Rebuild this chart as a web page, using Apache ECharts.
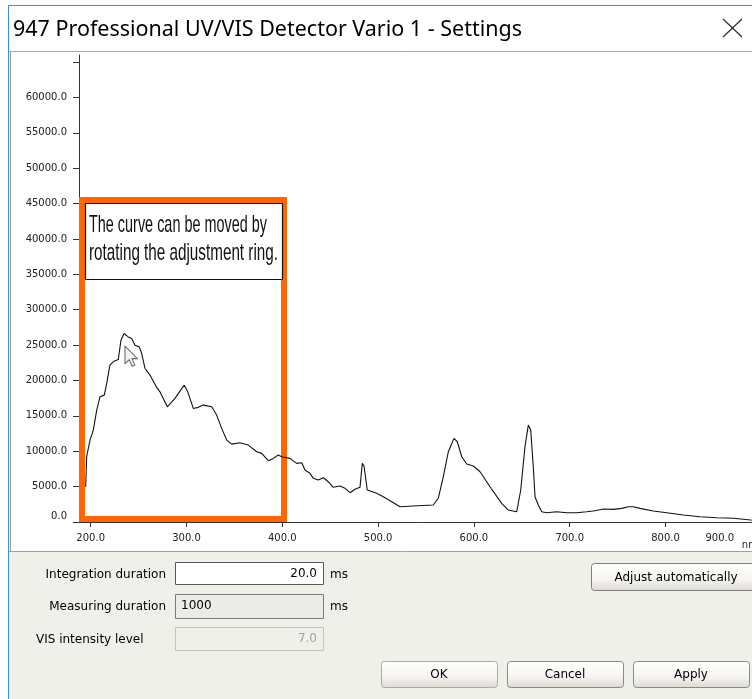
<!DOCTYPE html>
<html>
<head>
<meta charset="utf-8">
<script src="https://cdn.jsdelivr.net/npm/echarts@6/dist/echarts.min.js"></script>
<style>
html,body{margin:0;padding:0;background:#fff;overflow:hidden;width:752px;height:699px;}
#chart{width:800px;height:699px;}
</style>
</head>
<body>
<div id="chart"></div>
<script>
// ---- data ----
const wavelengths = [194.8,195.8,199.3,202.7,206.3,209.7,214.2,216.7,220.1,224.3,
  228.8,231.6,234.8,239.2,242.8,246.2,250.7,253.2,256.7,261.9,
  268.9,272.3,280.0,288.0,293.9,297.7,301.3,307.1,312.3,317.5,
  326.3,331.5,336.7,342.0,347.2,355.8,364.5,373.3,378.5,385.4,
  390.6,395.8,399.4,408.0,415.0,420.3,423.7,428.9,432.4,437.6,
  442.8,448.0,453.2,460.2,465.4,470.7,475.9,481.1,483.5,485.3,
  488.7,498.5,505.4,514.2,522.9,536.7,557.6,562.8,568.1,573.3,
  579.2,582.7,587.3,592.5,599.4,606.4,616.8,629.0,635.9,644.7,
  648.9,653.3,656.8,659.3,662.0,663.8,667.2,670.8,676.0,686.4,
  696.9,707.3,717.7,726.4,735.1,745.5,754.3,761.2,766.4,773.4,
  787.3,801.3,818.6,836.0,853.5,870.8,889.0,900];
const intensities = [4980,9220,11580,12990,15810,17690,17930,19580,22170,22730,
  22970,25700,26640,26160,25940,24990,24750,23820,21700,20760,
  19020,18400,16280,17470,18640,19340,18400,16050,16200,16520,
  16280,15110,13230,11580,11010,11200,10870,9930,9700,8660,
  8990,9460,9220,8990,8290,8370,7340,6880,6170,5930,
  6260,5690,4900,5080,4760,4140,4620,4900,8290,7910,
  4520,4050,3570,2870,2160,2260,2400,3350,6400,9930,
  11820,11340,9220,8190,7910,7100,4980,2640,1690,1450,
  4520,10630,13700,12990,7810,3570,2400,1450,1310,1450,
  1310,1310,1450,1600,1840,1790,1930,2160,2160,1930,
  1550,1310,990,750,610,520,280,250];
const xTickLabels = [200,300,400,500,600,700,800,900];
const yTickLabels = [0,5000,10000,15000,20000,25000,30000,35000,40000,45000,50000,55000,60000];
const yTickMarks = [0,5000,10000,15000,20000,25000,30000,35000,40000,45000,50000,55000,60000,65000];
const highlightRange = [[190.9, 420], [401.8, 45500]];

const titleText = '947 Professional UV/VIS Detector Vario 1 - Settings';
const noteLines = ['The curve can be moved by', 'rotating the adjustment ring.'];

// ---- helpers ----
const ctx = document.createElement('canvas').getContext('2d');
function fitScale(text, font, target){ ctx.font = font; const w = ctx.measureText(text).width; return w > 0 ? target / w : 1; }

const uiFont = '"DejaVu Sans", sans-serif';
const titleFont = '"Noto Sans", "Open Sans", sans-serif';
const noteFont = '"Liberation Sans", Arial, sans-serif';

const titleScale = fitScale(titleText, '21px "Noto Sans"', 509);
const note1Scale = fitScale(noteLines[0], '24px "Liberation Sans"', 178);
const note2Scale = fitScale(noteLines[1], '24px "Liberation Sans"', 189);

function button(x, y, w, h, text, border){
  return [
    {type:'rect', z:46, shape:{x:x+0.5,y:y+0.5,width:w,height:h,r:3},
     style:{fill:new echarts.graphic.LinearGradient(0,0,0,1,[{offset:0,color:'#ffffff'},{offset:0.6,color:'#f5f4f0'},{offset:1,color:'#dcd9d0'}]),
            stroke:border,lineWidth:1}},
    {type:'text', z:47, style:{x:x+w/2,y:y+h/2+1,text:text,font:'12px '+uiFont,fill:'#000',align:'center',verticalAlign:'middle'}}
  ];
}
function inputBox(x, y, w, h, fill, stroke){
  return {type:'rect', z:46, shape:{x:x+0.5,y:y+0.5,width:w,height:h}, style:{fill:fill,stroke:stroke,lineWidth:1}};
}
function label(x, y, text, color, align){
  return {type:'text', z:47, style:{x:x,y:y,text:text,font:'12px '+uiFont,fill:color||'#000',align:align||'left',verticalAlign:'middle'}};
}

const chart = echarts.init(document.getElementById('chart'));
chart.setOption({
  animation: false,
  backgroundColor: '#ffffff',
  grid: {left: 79, right: 38.7, top: 55, bottom: 177, containLabel: false},
  xAxis: {
    type: 'value', min: 187.8, max: 900,
    name: '\nnm', nameLocation: 'end', nameGap: -19.5,
    nameTextStyle: {fontFamily: 'DejaVu Sans', fontSize: 10, color: '#222', lineHeight: 46, align: 'left', verticalAlign: 'middle'},
    axisLine: {show: true, lineStyle: {color: '#333', width: 1}},
    axisTick: {show: true, length: 5, lineStyle: {color: '#333'}, customValues: xTickLabels},
    axisLabel: {
      customValues: xTickLabels, showMaxLabel: true, showMinLabel: true,
      margin: 11, fontFamily: 'DejaVu Sans', fontSize: 10, color: '#222',
      formatter: function(v){ return v === 900 ? '{last|' + v.toFixed(1) + '}' : v.toFixed(1); },
      rich: {last: {fontFamily: 'DejaVu Sans', fontSize: 10, color: '#222', padding: [0,83,0,0]}}
    },
    splitLine: {show: false}
  },
  yAxis: {
    type: 'value', min: 0, max: 66000, interval: 5000,
    axisLine: {show: true, lineStyle: {color: '#333', width: 1}},
    axisTick: {show: true, length: 6, lineStyle: {color: '#333'}, customValues: yTickMarks},
    axisLabel: {
      customValues: yTickLabels, margin: 12, fontFamily: 'DejaVu Sans', fontSize: 10, color: '#222',
      formatter: function(v){ return v === 0 ? '{zero|0.0}' : v.toFixed(1); },
      rich: {zero: {fontFamily: 'DejaVu Sans', fontSize: 10, color: '#222', padding: [0,0,12,0]}}
    },
    splitLine: {show: false}
  },
  series: [{
    type: 'line',
    data: wavelengths.map((w, i) => [w, intensities[i]]),
    showSymbol: false,
    smooth: false,
    lineStyle: {color: '#111', width: 1.1},
    clip: false,
    markArea: {
      silent: true,
      itemStyle: {color: 'rgba(0,0,0,0)', borderColor: '#ff6600', borderWidth: 6},
      data: [[{coord: highlightRange[0]}, {coord: highlightRange[1]}]]
    },
    z: 3
  }],
  graphic: [
    // window frame
    {type:'line', z:50, shape:{x1:8,y1:5.5,x2:800,y2:5.5}, style:{stroke:'#3d8ee6',lineWidth:1}},
    {type:'line', z:50, shape:{x1:8.5,y1:5,x2:8.5,y2:699}, style:{stroke:'#3d8ee6',lineWidth:1}},
    {type:'line', z:50, shape:{x1:9,y1:51.5,x2:800,y2:51.5}, style:{stroke:'#a8a8a8',lineWidth:1}},
    {type:'line', z:50, shape:{x1:10.5,y1:52,x2:10.5,y2:551}, style:{stroke:'#9a9a9a',lineWidth:1}},
    // title bar
    {type:'text', z:50, x:13, y:30, scaleX: titleScale, style:{x:0,y:0,text:titleText,font:'21px '+titleFont,fill:'#000',verticalAlign:'middle'}},
    {type:'line', z:50, shape:{x1:723,y1:19,x2:742,y2:37}, style:{stroke:'#333',lineWidth:1.3}},
    {type:'line', z:50, shape:{x1:742,y1:19,x2:723,y2:37}, style:{stroke:'#333',lineWidth:1.3}},
    // annotation box
    {type:'rect', z:60, shape:{x:85.5,y:203.5,width:197,height:76}, style:{fill:'#fff',stroke:'#111',lineWidth:1.2}},
    {type:'text', z:61, x:89, y:225, scaleX: note1Scale, style:{x:0,y:0,text:noteLines[0],font:'24px '+noteFont,fill:'#111',verticalAlign:'middle'}},
    {type:'text', z:61, x:89, y:253, scaleX: note2Scale, style:{x:0,y:0,text:noteLines[1],font:'24px '+noteFont,fill:'#111',verticalAlign:'middle'}},
    // mouse cursor
    {type:'polygon', z:62, x:125, y:346, scaleX:1.1, scaleY:1.1,
     shape:{points:[[0,0],[0,16],[3.8,12.5],[6.5,18.5],[9,17.4],[6.4,11.5],[11.3,11.5]]},
     style:{fill:'#f4f4f4',stroke:'#6e6e6e',lineWidth:1}},
    // bottom panel
    {type:'rect', z:40, shape:{x:9,y:551,width:791,height:148}, style:{fill:'#f0f0eb'}},
    {type:'line', z:41, shape:{x1:9,y1:551.5,x2:800,y2:551.5}, style:{stroke:'#a0a0a0',lineWidth:1}},
    label(166, 575, 'Integration duration', '#000', 'right'),
    inputBox(175, 562, 148, 22, '#ffffff', '#5a5a5a'),
    label(317, 574, '20.0', '#000', 'right'),
    label(330, 575, 'ms'),
    label(166, 607, 'Measuring duration', '#000', 'right'),
    inputBox(175, 594, 148, 24, '#ecebe6', '#7a7a7a'),
    label(181, 606, '1000'),
    label(330, 607, 'ms'),
    label(36, 640, 'VIS intensity level'),
    inputBox(175, 627, 148, 23, '#f0f0eb', '#c4c3bc'),
    label(317, 639, '7.0', '#a0a0a0', 'right')
  ].concat(
    button(591, 563, 170, 27, 'Adjust automatically', '#7f7f7f'),
    button(381, 661, 116, 26, 'OK', '#c0a878'),
    button(507, 661, 116, 26, 'Cancel', '#8a8a8a'),
    button(633, 661, 116, 26, 'Apply', '#8a8a8a')
  )
});
</script>
</body>
</html>
